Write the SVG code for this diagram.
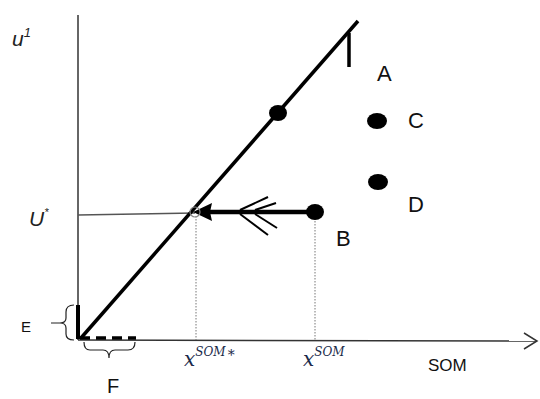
<svg xmlns="http://www.w3.org/2000/svg" width="540" height="399" viewBox="0 0 540 399">
<style>
.lbl{font-family:"Liberation Sans",Arial,sans-serif;fill:#111}
.math{font-family:"DejaVu Serif","Liberation Serif",serif;font-style:italic;fill:#1a2a4a}
.var{font-family:"Liberation Sans",Arial,sans-serif;font-style:italic;fill:#222}
.ax{stroke:#333;stroke-width:1.5;fill:none}
.thick{stroke:#000;stroke-width:3.5;fill:none}
.dot{stroke:#777;stroke-width:1;stroke-dasharray:1.5 1.5;fill:none}
</style>
<rect width="540" height="399" fill="#fff"/>
<g id="connectors">
  <line class="ax" x1="78" y1="15" x2="78" y2="340"/>
  <line class="ax" x1="78" y1="340" x2="536" y2="341"/>
  <polyline class="ax" points="524,333 537,341 524,349"/>
  <line x1="78" y1="215" x2="195" y2="213" stroke="#555" stroke-width="1.3"/>
  <line class="dot" x1="196" y1="216" x2="196" y2="340"/>
  <line class="dot" x1="315" y1="218" x2="315" y2="340"/>
  <line class="thick" x1="81" y1="338" x2="358" y2="21"/>
  <line class="thick" x1="349" y1="33" x2="349" y2="67"/>
  <line stroke="#000" stroke-width="4.5" x1="208" y1="212" x2="315" y2="212"/>
  <polygon points="193,212 212,203 210,212 212,221" fill="#000"/>
  <line stroke="#000" stroke-width="2" x1="240" y1="210" x2="268" y2="197"/>
  <line stroke="#000" stroke-width="2" x1="255" y1="210" x2="276" y2="203"/>
  <line stroke="#000" stroke-width="2" x1="240" y1="214" x2="268" y2="235"/>
  <line stroke="#000" stroke-width="2" x1="255" y1="214" x2="277" y2="228"/>
  <circle cx="195" cy="212" r="5" fill="none" stroke="#888" stroke-width="1.2"/>
  <line stroke="#000" stroke-width="4" x1="78" y1="305" x2="78" y2="339"/>
  <line stroke="#000" stroke-width="3.5" x1="80" y1="338" x2="136" y2="338" stroke-dasharray="10 6"/>
  <path d="M74,305 Q66,305 66,312 L66,318 Q66,323 60,323 L51,323 M60,323 Q66,323 66,328 L66,334 Q66,340 74,340" fill="none" stroke="#222" stroke-width="1.2"/>
  <path d="M84,342 Q84,350 90,350 L103,350 Q109,350 109,358 M109,358 Q109,350 115,350 L128,350 Q135,350 135,342" fill="none" stroke="#222" stroke-width="1.2"/>
</g>
<g id="pointUp"><ellipse cx="278" cy="113" rx="9" ry="8" fill="#000"/></g>
<g id="A"><text class="lbl" x="377" y="81" font-size="22">A</text></g>
<g id="C"><ellipse cx="377" cy="121" rx="10" ry="8" fill="#000"/><text class="lbl" x="408" y="128" font-size="22">C</text></g>
<g id="D"><ellipse cx="378" cy="182" rx="10" ry="8" fill="#000"/><text class="lbl" x="408" y="212" font-size="22">D</text></g>
<g id="B"><ellipse cx="315" cy="212" rx="9" ry="8" fill="#000"/><text class="lbl" x="336" y="246" font-size="22">B</text></g>
<g id="E"><text class="lbl" x="21" y="332" font-size="15">E</text></g>
<g id="F"><text class="lbl" x="107" y="393" font-size="20">F</text></g>
<g id="labels">
  <text class="var" x="12" y="46" font-size="21">u<tspan font-size="13" dy="-9">1</tspan></text>
  <text class="var" x="29" y="226" font-size="21">U<tspan font-size="11" dy="-10">*</tspan></text>
  <text class="math" x="184" y="366" font-size="20">x<tspan font-size="12" dy="-10">SOM</tspan><tspan font-size="14" dx="2" dy="4">*</tspan></text>
  <text class="math" x="303" y="366" font-size="20">x<tspan font-size="12" dy="-10">SOM</tspan></text>
  <text class="lbl" x="428" y="371" font-size="17">SOM</text>
</g>
</svg>
